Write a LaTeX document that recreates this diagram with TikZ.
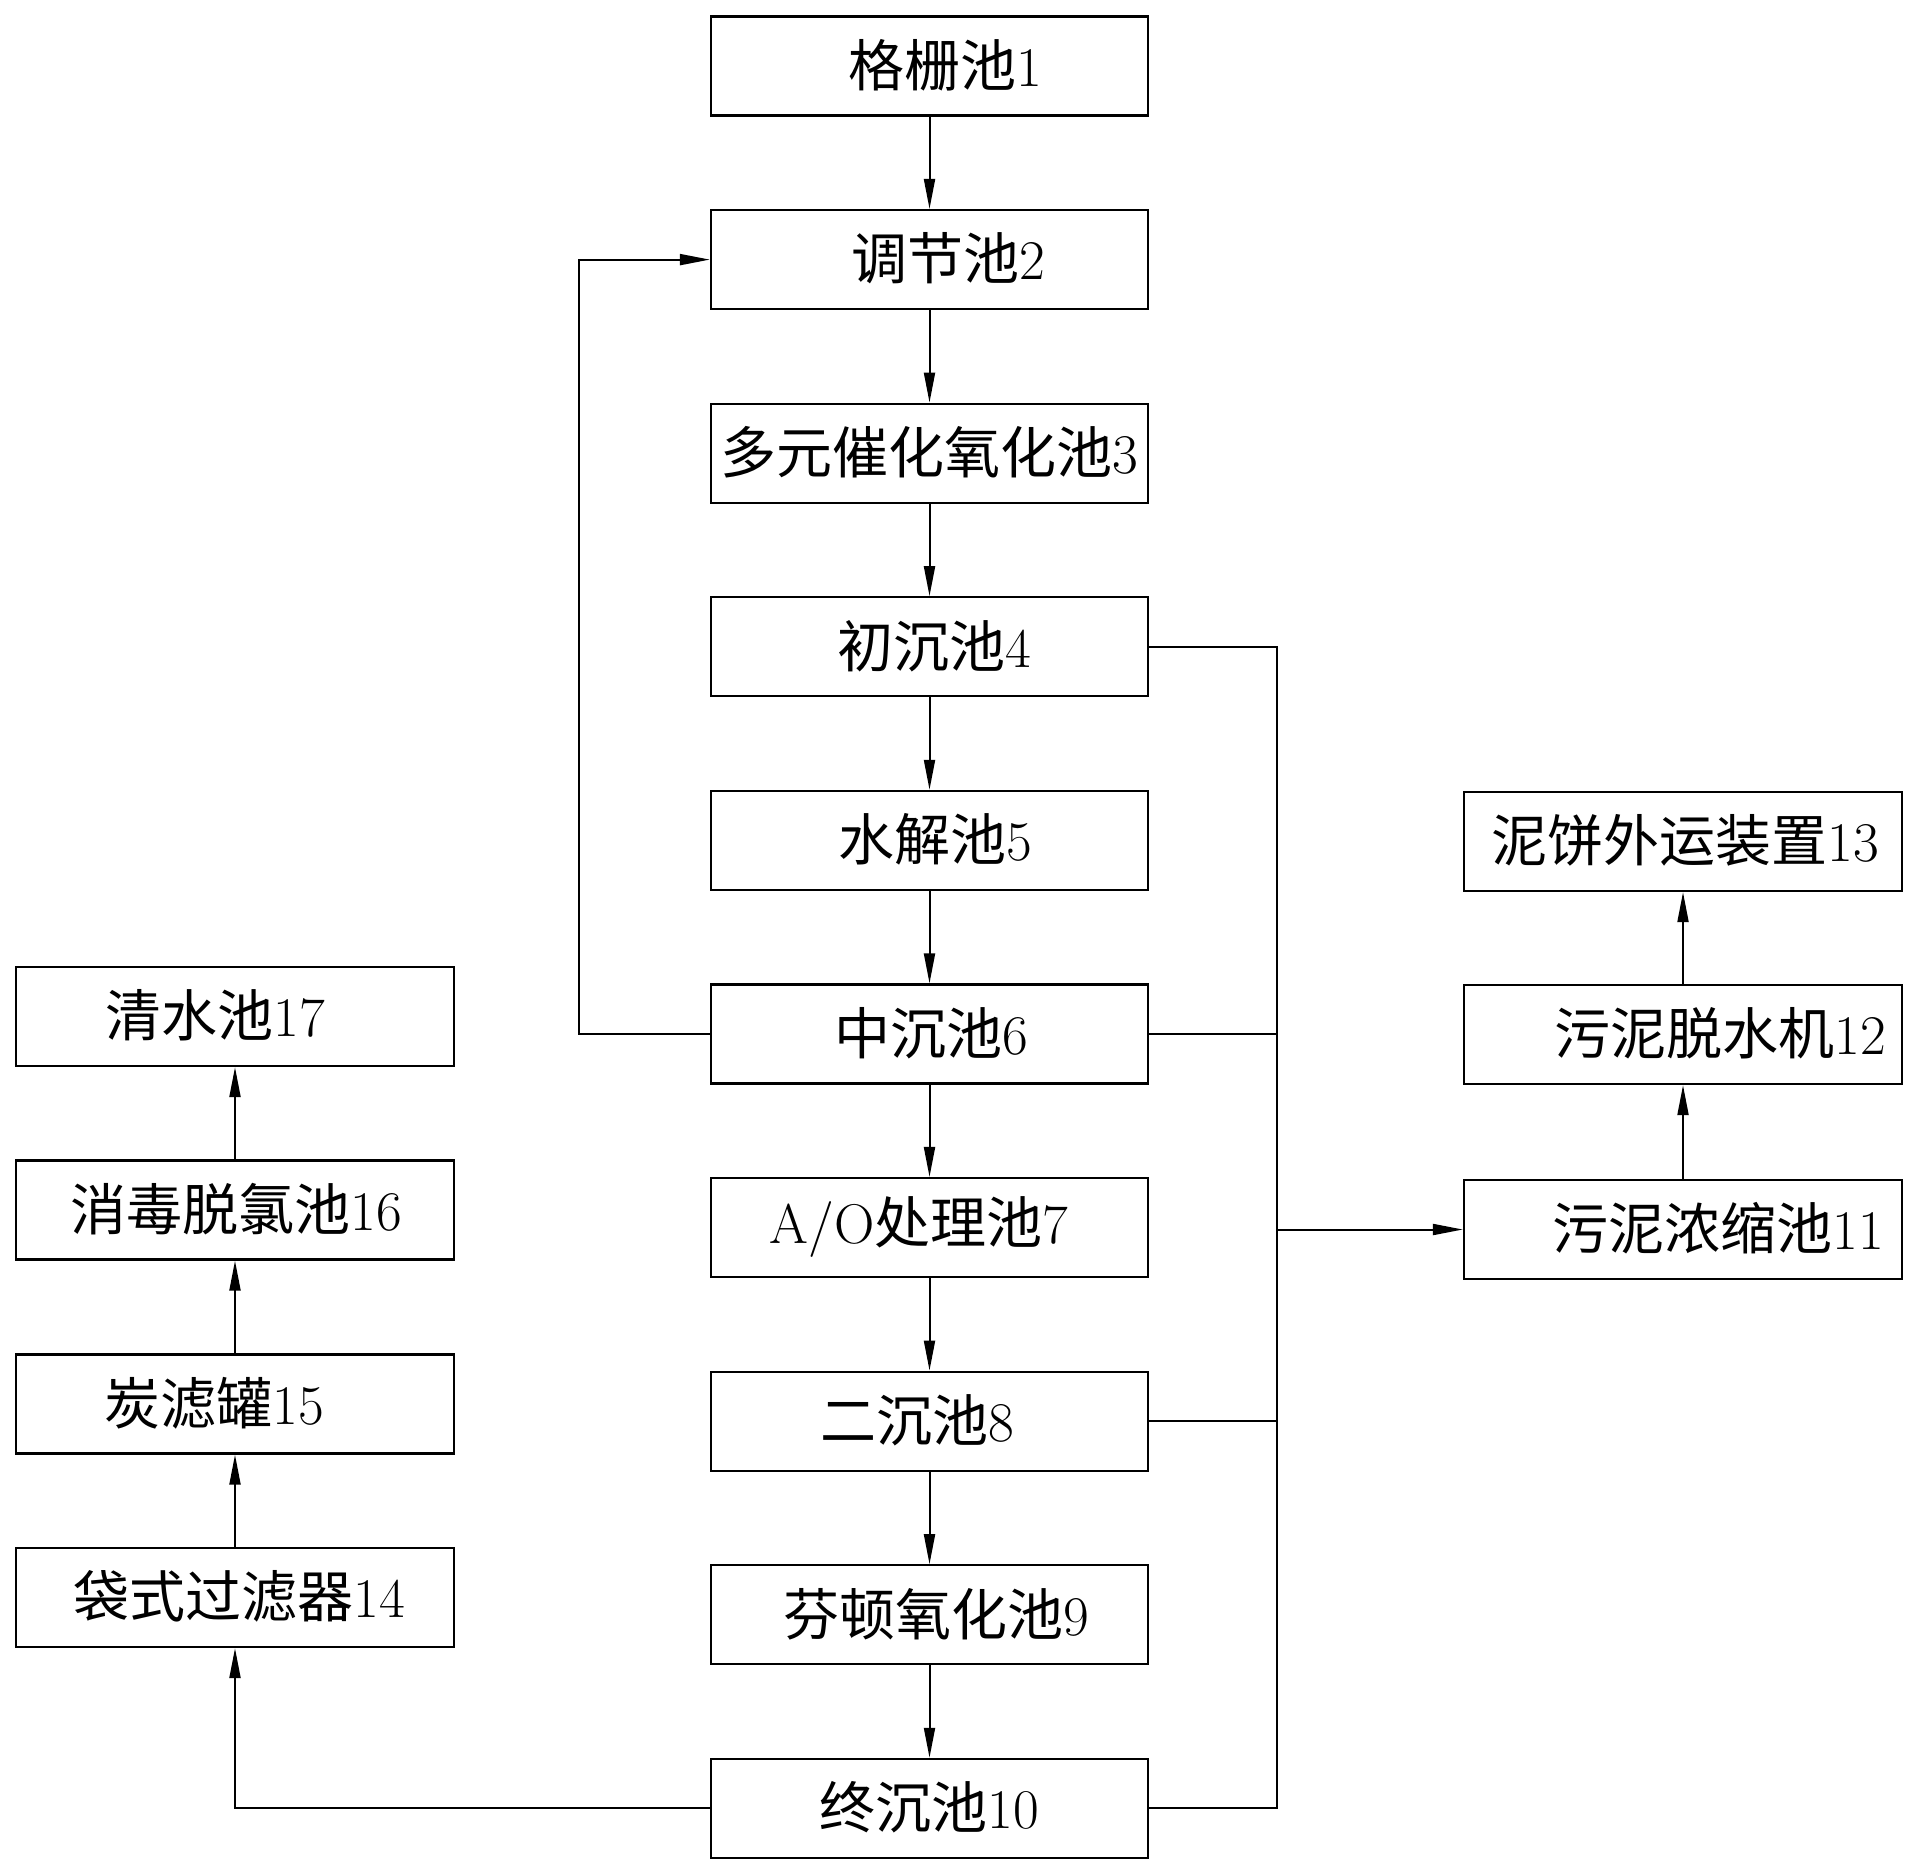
\documentclass[tikz,border=0pt]{standalone}
\usepackage{fontspec}
\newfontfamily\cjk{Noto Sans CJK SC}
\usetikzlibrary{arrows.meta}
\tikzset{
  box/.style={draw, line width=2.3pt, minimum height=99pt, inner sep=0pt},
  cbox/.style={box, minimum width=437pt},
  sbox/.style={box, minimum width=438pt},
  txt/.style={inner sep=0pt, font=\fontsize{56}{60}\selectfont},
  conn/.style={line width=2pt},
  arr/.style={conn, -{Triangle[length=30pt,width=11pt]}}
}
\begin{document}
\begin{tikzpicture}[x=1pt,y=-1pt]
\useasboundingbox (0,0) rectangle (1919,1875);
% centre column
\node[cbox] (b1) at (929.5,66) {};
\node[cbox] (b2) at (929.5,259.6) {};
\node[cbox] (b3) at (929.5,453.2) {};
\node[cbox] (b4) at (929.5,646.8) {};
\node[cbox] (b5) at (929.5,840.4) {};
\node[cbox] (b6) at (929.5,1034) {};
\node[cbox] (b7) at (929.5,1227.6) {};
\node[cbox] (b8) at (929.5,1421.2) {};
\node[cbox] (b9) at (929.5,1614.8) {};
\node[cbox] (b10) at (929.5,1808.4) {};
% right column
\node[sbox] (b13) at (1683,841.5) {};
\node[sbox] (b12) at (1683,1034.5) {};
\node[sbox] (b11) at (1683,1229.5) {};
% left column
\node[sbox] (b17) at (235,1016.5) {};
\node[sbox] (b16) at (235,1210) {};
\node[sbox] (b15) at (235,1404) {};
\node[sbox] (b14) at (235,1597.5) {};
% labels
\node[txt] (t1) at (945,65) {{\cjk 格栅池}1};
\node[txt] (t2) at (948,258.6) {{\cjk 调节池}2};
\node[txt] (t3) at (929,452.2) {{\cjk 多元催化氧化池}3};
\node[txt] (t4) at (934,645.8) {{\cjk 初沉池}4};
\node[txt] (t5) at (935,839.4) {{\cjk 水解池}5};
\node[txt] (t6) at (931,1033) {{\cjk 中沉池}6};
\node[txt] (t7) at (919,1226.6) {A/O{\cjk 处理池}7};
\node[txt] (t8) at (917,1420.2) {{\cjk 二沉池}8};
\node[txt] (t9) at (936,1613.8) {{\cjk 芬顿氧化池}9};
\node[txt] (t10) at (929,1807.4) {{\cjk 终沉池}10};
\node[txt] (t11) at (1718,1228.5) {{\cjk 污泥浓缩池}11};
\node[txt] (t12) at (1720,1033.5) {{\cjk 污泥脱水机}12};
\node[txt] (t13) at (1685,840.5) {{\cjk 泥饼外运装置}13};
\node[txt] (t14) at (239,1596.5) {{\cjk 袋式过滤器}14};
\node[txt] (t15) at (214,1403) {{\cjk 炭滤罐}15};
\node[txt] (t16) at (236,1209) {{\cjk 消毒脱氯池}16};
\node[txt] (t17) at (215,1015.5) {{\cjk 清水池}17};
% main chain
\draw[arr] (b1) -- (b2);
\draw[arr] (b2) -- (b3);
\draw[arr] (b3) -- (b4);
\draw[arr] (b4) -- (b5);
\draw[arr] (b5) -- (b6);
\draw[arr] (b6) -- (b7);
\draw[arr] (b7) -- (b8);
\draw[arr] (b8) -- (b9);
\draw[arr] (b9) -- (b10);
% feedback
\coordinate (fb) at (579,259.6);
\draw[arr] (b6.west) -| (fb) -- (b2.west);
% sludge bus
\coordinate (bt) at (1277,646.8);
\coordinate (bb) at (1277,1808.4);
\draw[conn] (b4.east) -- (bt) -- (bb) -- (b10.east);
\draw[conn] (b6.east) -- (b6.east -| bt);
\draw[conn] (b8.east) -- (b8.east -| bt);
\draw[arr] (b11.west -| bt) -- (b11.west);
\draw[arr] (b11) -- (b12);
\draw[arr] (b12) -- (b13);
% clean water line
\draw[arr] (b10.west) -| (b14.south);
\draw[arr] (b14) -- (b15);
\draw[arr] (b15) -- (b16);
\draw[arr] (b16) -- (b17);
\end{tikzpicture}
\end{document}
